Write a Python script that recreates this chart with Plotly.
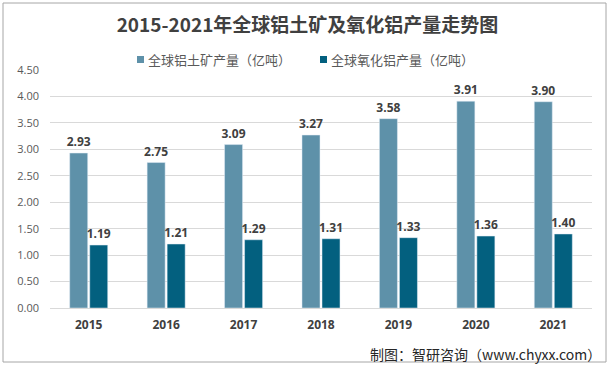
import plotly.graph_objects as go

years = ["2015", "2016", "2017", "2018", "2019", "2020", "2021"]
bauxite = [2.93, 2.75, 3.09, 3.27, 3.58, 3.91, 3.90]
alumina = [1.19, 1.21, 1.29, 1.31, 1.33, 1.36, 1.40]
y_ticks = [0, 0.5, 1.0, 1.5, 2.0, 2.5, 3.0, 3.5, 4.0, 4.5]
series_names = ["全球铝土矿产量（亿吨）", "全球氧化铝产量（亿吨）"]
series_colors = ["#5e91a9", "#03607f"]

font_cn = "Noto Sans CJK SC, Open Sans, sans-serif"

fig = go.Figure()
for name, vals, col in zip(series_names, [bauxite, alumina], series_colors):
    fig.add_bar(x=years, y=vals, name=name, marker_color=col,
                text=[f"<b>{v:.2f}</b>" for v in vals], textposition="outside",
                constraintext="none", showlegend=False,
                textfont=dict(size=12, color="#404040", family="Open Sans"), cliponaxis=False)

L, R, T, B = 50, 23, 70, 62
W, H = 615, 370
pw, ph = W - L - R, H - T - B


def px(x):
    return (x - L) / pw


def py(y):
    return 1 - (y - T) / ph


fig.update_layout(
    width=W, height=H,
    margin=dict(l=L, r=R, t=T, b=B, autoexpand=False),
    paper_bgcolor="white", plot_bgcolor="white",
    barmode="group", bargap=0.483, bargroupgap=0.1,
    title=dict(text="<b>2015-2021年全球铝土矿及氧化铝产量走势图</b>", x=0.5, xanchor="center",
               y=1 - 25 / H, yanchor="middle",
               font=dict(size=19, color="#404040", family=font_cn)),
    showlegend=False,
    font=dict(family=font_cn),
)
fig.update_xaxes(tickfont=dict(size=12, color="#404040", family="Open Sans"), tickprefix="<b>",
                 ticksuffix="</b>", showline=True, linecolor="#d9d9d9", showgrid=False, ticks="",
                 ticklabelstandoff=6)
fig.update_yaxes(range=[0, 4.5], tickvals=y_ticks, tickformat=".2f",
                 tickfont=dict(size=11, color="#595959", family="Open Sans"),
                 showgrid=True, gridcolor="#d9d9d9", zeroline=False, showline=False, ticks="",
                 ticklabelstandoff=10)

# outer frame
fig.add_shape(type="rect", xref="paper", yref="paper",
              x0=px(3), x1=px(606), y0=py(362), y1=py(3),
              line=dict(color="#a6a6a6", width=1), fillcolor="rgba(0,0,0,0)", layer="below")

# legend (custom, compact)
legend_x = [137, 320]
for lx, name, col in zip(legend_x, series_names, series_colors):
    fig.add_shape(type="rect", xref="paper", yref="paper",
                  x0=px(lx), x1=px(lx + 7), y0=py(63), y1=py(56),
                  line=dict(width=0), fillcolor=col)
    fig.add_annotation(text=name, xref="paper", yref="paper", x=px(lx + 9), xanchor="left",
                       y=py(59.5), yanchor="middle", showarrow=False,
                       font=dict(size=13, color="#595959", family=font_cn))

fig.add_annotation(text="制图：智研咨询（www.chyxx.com）", xref="paper", yref="paper",
                   x=px(603), xanchor="right", y=py(354), yanchor="middle",
                   showarrow=False, font=dict(size=14, color="#262626", family=font_cn))

fig.write_html("out.html", config={"displayModeBar": False},
               post_script="document.body.style.margin='0';document.body.style.overflow='hidden';")
